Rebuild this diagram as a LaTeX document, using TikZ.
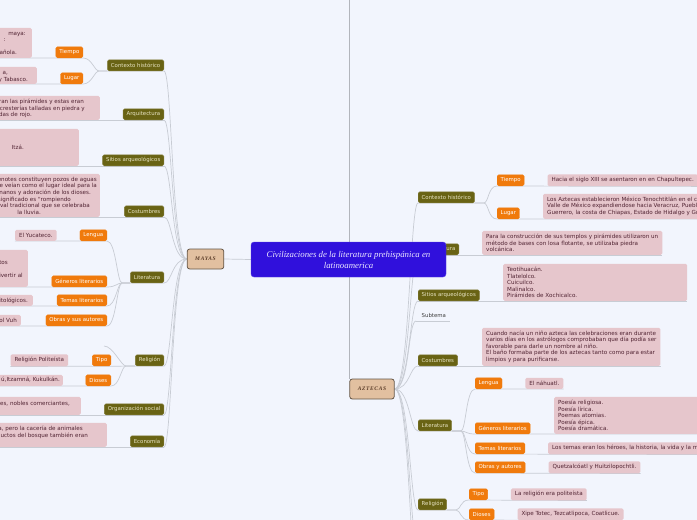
\documentclass[tikz,border=0pt]{standalone}
\usepackage{fontspec}
\setmainfont{Liberation Serif}
\newfontfamily\mapfont{DejaVu Sans}
\newfontfamily\civfont[LetterSpace=12]{Liberation Serif}
\usepackage{tikz}
\usetikzlibrary{positioning,backgrounds}
\definecolor{paper}{RGB}{242,245,253}
\definecolor{topicolive}{RGB}{105,99,20}
\definecolor{topictext}{RGB}{232,228,196}
\definecolor{suborange}{RGB}{240,122,12}
\definecolor{leafpink}{RGB}{230,198,204}
\definecolor{leaftext}{RGB}{80,35,50}
\definecolor{linkgray}{RGB}{200,204,212}
\definecolor{trunkgray}{RGB}{178,181,188}
\definecolor{civtan}{RGB}{226,192,160}
\definecolor{civbrown}{RGB}{100,85,70}
\definecolor{civtext}{RGB}{90,60,40}
\definecolor{titleblue}{RGB}{48,16,220}
\definecolor{titletext}{RGB}{236,232,255}

\begin{document}
\begin{tikzpicture}[
  x=1pt,y=-1pt,
  node distance=23pt,
  topic/.style={rectangle,fill=topicolive,draw=topicolive!85!white,rounded corners=1.5pt,text=topictext,font=\mapfont\fontsize{5.4}{6}\selectfont,inner xsep=3.5pt,inner ysep=0pt,minimum height=11pt},
  sub/.style={topic,fill=suborange,draw=suborange,text=white},
  subtema/.style={rectangle,text=black!75,font=\mapfont\fontsize{5.4}{6}\selectfont,inner xsep=3.5pt,inner ysep=0pt,minimum height=11pt},
  leaf/.style={rectangle,fill=leafpink,rounded corners=1.5pt,text=leaftext,align=left,font=\mapfont\fontsize{5.6}{6.5}\selectfont,inner xsep=4pt,inner ysep=3.2pt,minimum height=11pt},
  frag/.style={text=leaftext,font=\mapfont\fontsize{5.6}{6.5}\selectfont,inner sep=0pt,anchor=base east},
  civ/.style={rectangle,fill=civtan,draw=civbrown,line width=0.8pt,rounded corners=2.5pt,text=civtext,font=\civfont\bfseries\itshape\fontsize{5.5}{6}\selectfont,inner xsep=8pt,minimum height=20pt},
  title/.style={rectangle,fill=titleblue,draw=titleblue!80!white,rounded corners=3pt,text=titletext,align=center,font=\itshape\fontsize{8.8}{11}\selectfont,minimum width=195pt,minimum height=35pt},
  link/.style={draw=linkgray,line width=0.7pt},
  trunk/.style={draw=trunkgray,line width=1.3pt}
]
\useasboundingbox (0,0) rectangle (697,520);

% Mayas
\node[topic,anchor=south east] (mContexto) at (164,71) {Contexto histórico};
\node[topic,anchor=south east] (mArq) at (164,120) {Arquitectura};
\node[topic,anchor=south east] (mSitios) at (164,166) {Sitios arqueológicos};
\node[topic,anchor=south east] (mCost) at (164,217) {Costumbres};
\node[topic,anchor=south east] (mLit) at (164,283) {Literatura};
\node[topic,anchor=south east] (mRel) at (164,366) {Religión};
\node[topic,anchor=south east] (mOrg) at (164,415) {Organización social};
\node[topic,anchor=south east] (mEco) at (164,447) {Economía};

\node[sub,anchor=south east] (mTiempo) at (83,58) {Tiempo};
\node[sub,anchor=south east] (mLugar) at (83,84) {Lugar};
\node[sub,anchor=south east] (mLengua) at (107,241) {Lengua};
\node[sub,anchor=south east] (mGeneros) at (107,287) {Géneros literarios};
\node[sub,anchor=south east] (mTemas) at (107,306) {Temas literarios};
\node[sub,anchor=south east] (mObras) at (107,326) {Obras y sus autores};
\node[sub,anchor=south east] (mTipo) at (111,366) {Tipo};
\node[sub,anchor=south east] (mDioses) at (111,386) {Dioses};
\coordinate (mRelEnd) at (104,346);

% leaves cut by the left edge
\node[leaf,anchor=south east,minimum width=120pt,minimum height=30pt] (lmTiempo) at (32,58) {};
\node[frag] (lmTiempo1) at (26,35) {maya:};
\node[frag] (lmTiempo2) at (6,41.5) {:};
\node[frag] (lmTiempo3) at (17,54.5) {añola.};
\node[leaf,anchor=south east,minimum width=120pt,minimum height=17pt] (lmLugar) at (37,84) {};
\node[frag] (lmLugar1) at (8,74) {a,};
\node[frag] (lmLugar2) at (28,81) {y Tabasco.};
\node[leaf,anchor=south east,minimum width=130pt,minimum height=24pt] (lmArq) at (100,120) {};
\node[frag] (lmArq1) at (84,103) {ran las pirámides y estas eran};
\node[frag] (lmArq2) at (85,110) {y cresterías talladas en piedra y};
\node[frag] (lmArq3) at (32,116.8) {das de rojo.};
\node[leaf,anchor=south east,minimum width=120pt,minimum height=37pt] (lmSitios) at (79,166) {};
\node[frag] (lmSitios1) at (24,149) {Itzá.};
\node[leaf,anchor=south east,minimum width=130pt,minimum height=43pt] (lmCost) at (100,217) {};
\node[frag] (lmCost1) at (97,181) {enotes constituyen pozos de aguas};
\node[frag] (lmCost2) at (97,187.8) {e veían como el lugar ideal para la};
\node[frag] (lmCost3) at (91,194.5) {nanos y adoración de los dioses.};
\node[frag] (lmCost4) at (71,201) {e significado es "rompiendo};
\node[frag] (lmCost5) at (90,207.8) {tival tradicional que se celebraba};
\node[frag] (lmCost6) at (41,214.5) {la lluvia.};
\node[leaf,left=of mLengua] (lmLengua) {El Yucateco.};
\node[leaf,anchor=south east,minimum width=120pt,minimum height=37pt] (lmGeneros) at (28,287) {};
\node[frag] (lmGeneros1) at (8,264.5) {tos};
\node[frag] (lmGeneros2) at (23,277) {ivertir al};
\node[leaf,anchor=south east,minimum width=120pt] (lmTemas) at (33,306) {};
\node[frag] (lmTemas1) at (28,302.8) {itológicos.};
\node[leaf,anchor=south east,minimum width=120pt] (lmObras) at (21,326) {};
\node[frag] (lmObras1) at (17,322.5) {ol Vuh};
\node[leaf,left=24pt of mTipo] (lmTipo) {Religión Politeísta};
\node[leaf,anchor=south east,minimum width=120pt] (lmDioses) at (63,386) {};
\node[frag] (lmDioses1) at (60,381.8) {ú,Itzamná, Kukulkán.};
\node[leaf,anchor=south east,minimum width=120pt,minimum height=18pt] (lmOrg) at (81,415) {};
\node[frag] (lmOrg1) at (70,405) {ces, nobles comerciantes,};
\node[leaf,anchor=south east,minimum width=140pt,minimum height=24pt] (lmEco) at (107,447) {};
\node[frag] (lmEco1) at (83,430.8) {ra, pero la cacería de animales};
\node[frag] (lmEco2) at (88,437.8) {uctos del bosque también eran};

% Aztecas
\node[topic,anchor=south west] (aContexto) at (418,203) {Contexto histórico};
\node[topic,anchor=south west] (aArq) at (418,255) {Arquitectura};
\node[topic,anchor=south west] (aSitios) at (418,301) {Sitios arqueológicos};
\node[subtema,anchor=south west] (aSub) at (418,321) {Subtema};
\node[topic,anchor=south west] (aCost) at (418,366) {Costumbres};
\node[topic,anchor=south west] (aLit) at (418,431) {Literatura};
\node[topic,anchor=south west] (aRel) at (418,510) {Religión};
\coordinate (aMore1) at (418,548);
\coordinate (aMore2) at (418,585);

\node[sub,anchor=south west] (aTiempo) at (497,186) {Tiempo};
\node[sub,anchor=south west] (aLugar) at (497,219) {Lugar};
\node[sub,anchor=south west] (aLengua) at (475,389) {Lengua};
\node[sub,anchor=south west] (aGeneros) at (475,434) {Géneros literarios};
\node[sub,anchor=south west] (aTemas) at (475,454) {Temas literarios};
\node[sub,anchor=south west] (aObras) at (475,473) {Obras y autores};
\node[sub,anchor=south west] (aTipo) at (469,500) {Tipo};
\node[sub,anchor=south west] (aDioses) at (469,520) {Dioses};

\node[leaf,right=of aTiempo] (laTiempo) {Hacia el siglo XIII se asentaron en en Chapultepec.};
\node[leaf,anchor=south west] (laLugar) at (543,219) {Los Aztecas establecieron México Tenochtitlán en el ce\\Valle de México expandiendose hacia Veracruz, Puebla\\Guerrero, la costa de Chiapas, Estado de Hidalgo y Gu};
\node[leaf,anchor=south west] (laArq) at (482,255) {Para la construcción de sus templos y pirámides utilizaron un\\método de bases con losa flotante, se utilizaba piedra\\volcánica.};
\node[leaf,anchor=south west,text width=176pt] (laSitios) at (503,301) {Teotihuacán.\\Tlatelolco.\\Cuicuilco.\\Malinalco.\\Pirámides de Xochicalco.};
\node[leaf,anchor=south west] (laCost) at (482,366) {Cuando nacía un niño azteca las celebraciones eran durante\\varios días en los astrólogos comprobaban que día podía ser\\favorable para darle un nombre al niño.\\El baño formaba parte de los aztecas tanto como para estar\\limpios y para purificarse.};
\node[leaf,right=of aLengua] (laLengua) {El náhuatl.};
\node[leaf,anchor=south west,text width=150pt] (laGeneros) at (554,434) {Poesía religiosa.\\Poesía lírica.\\Poemas atomias.\\Poesía épica.\\Poesía dramática.};
\node[leaf,right=of aTemas] (laTemas) {Los temas eran los héroes, la historia, la vida y la m};
\node[leaf,right=of aObras] (laObras) {Quetzalcóatl y Huitzilopochtli.};
\node[leaf,right=of aTipo] (laTipo) {La religión era politeísta};
\node[leaf,right=of aDioses] (laDioses) {Xipe Totec, Tezcatlipoca, Coatlicue.};

\node[civ] (mayas) at (205.5,259) {MAYAS};
\node[civ] (aztecas) at (372,389) {AZTECAS};
\coordinate (rootTop) at (aztecas.north west |- 0,-5);
\node[title] (title) at (348.5,259.5) {Civilizaciones de la literatura prehispánica en\\latinoamerica};

\begin{scope}[on background layer]
\fill[paper] (0,0) rectangle (697,520);
\draw[trunk] (rootTop) -- (aztecas.north west);
\draw[link] (mayas.east) -- (title.west);
% mayas branches
\draw[link] (mayas.west) .. controls +(-15,0) and +(8,0) .. (mContexto.south east);
\draw[link] (mayas.west) .. controls +(-15,0) and +(8,0) .. (mArq.south east);
\draw[link] (mayas.west) .. controls +(-15,0) and +(8,0) .. (mSitios.south east);
\draw[link] (mayas.west) .. controls +(-15,0) and +(8,0) .. (mCost.south east);
\draw[link] (mayas.west) .. controls +(-15,0) and +(8,0) .. (mLit.south east);
\draw[link] (mayas.west) .. controls +(-15,0) and +(8,0) .. (mRel.south east);
\draw[link] (mayas.west) .. controls +(-15,0) and +(8,0) .. (mOrg.south east);
\draw[link] (mayas.west) .. controls +(-15,0) and +(8,0) .. (mEco.south east);
\draw[link] (mContexto.south east) -- (mContexto.south west) -- ++(-8,0) .. controls +(-5,0) and +(9,0) .. (mTiempo.south east) -- (lmTiempo.south west);
\draw[link] (mContexto.south west) -- ++(-8,0) .. controls +(-5,0) and +(9,0) .. (mLugar.south east) -- (lmLugar.south west);
\draw[link] (mArq.south east) -- (lmArq.south west);
\draw[link] (mSitios.south east) -- (lmSitios.south west);
\draw[link] (mCost.south east) -- (lmCost.south west);
\draw[link] (mLit.south east) -- (mLit.south west) -- ++(-8,0) .. controls +(-5,0) and +(9,0) .. (mLengua.south east) -- (lmLengua.south west);
\draw[link] (mLit.south west) -- ++(-8,0) .. controls +(-5,0) and +(9,0) .. (mGeneros.south east) -- (lmGeneros.south west);
\draw[link] (mLit.south west) -- ++(-8,0) .. controls +(-5,0) and +(9,0) .. (mTemas.south east) -- (lmTemas.south west);
\draw[link] (mLit.south west) -- ++(-8,0) .. controls +(-5,0) and +(9,0) .. (mObras.south east) -- (lmObras.south west);
\draw[link] (mRel.south east) -- (lmTipo.south west);
\draw[link] (mRel.south west) -- ++(-9,0) .. controls +(-5,0) and +(9,0) .. (mDioses.south east) -- (lmDioses.south west);
\draw[link] (mRel.south west) -- ++(-9,0) .. controls +(-5,0) and +(9,0) .. (mRelEnd);
\draw[link] (mOrg.south east) -- (lmOrg.south west);
\draw[link] (mEco.south east) -- (lmEco.south west);
% aztecas branches
\draw[link] (aztecas.east) .. controls +(15,0) and +(-8,0) .. (aContexto.south west);
\draw[link] (aztecas.east) .. controls +(15,0) and +(-8,0) .. (aArq.south west);
\draw[link] (aztecas.east) .. controls +(15,0) and +(-8,0) .. (aSitios.south west);
\draw[link] (aztecas.east) .. controls +(15,0) and +(-8,0) .. ([xshift=-2pt]aSub.south west);
\draw[link] (aztecas.east) .. controls +(15,0) and +(-8,0) .. (aCost.south west);
\draw[link] (aztecas.east) .. controls +(15,0) and +(-8,0) .. (aLit.south west);
\draw[link] (aztecas.east) .. controls +(15,0) and +(-8,0) .. (aRel.south west);
\draw[link] (aztecas.east) .. controls +(15,0) and +(-8,0) .. (aMore1);
\draw[link] (aztecas.east) .. controls +(15,0) and +(-8,0) .. (aMore2);
\draw[link] (aContexto.south west) -- (aContexto.south east) -- ++(9,0) .. controls +(5,0) and +(-9,0) .. (aTiempo.south west) -- (laTiempo.south east);
\draw[link] (aContexto.south east) -- ++(9,0) .. controls +(5,0) and +(-9,0) .. (aLugar.south west) -- (laLugar.south east);
\draw[link] (aArq.south west) -- (laArq.south east);
\draw[link] (aSitios.south west) -- (laSitios.south east);
\draw[link] ([xshift=-2pt]aSub.south west) -- (aSub.south east);
\draw[link] (aCost.south west) -- (laCost.south east);
\draw[link] (aLit.south west) -- (aLit.south east) -- ++(9,0) .. controls +(5,0) and +(-9,0) .. (aLengua.south west) -- (laLengua.south east);
\draw[link] (aLit.south east) -- ++(9,0) .. controls +(5,0) and +(-9,0) .. (aGeneros.south west) -- (laGeneros.south east);
\draw[link] (aLit.south east) -- ++(9,0) .. controls +(5,0) and +(-9,0) .. (aTemas.south west) -- (laTemas.south east);
\draw[link] (aLit.south east) -- ++(9,0) .. controls +(5,0) and +(-9,0) .. (aObras.south west) -- (laObras.south east);
\draw[link] (aRel.south west) -- (aRel.south east) -- ++(9,0) .. controls +(5,0) and +(-9,0) .. (aTipo.south west) -- (laTipo.south east);
\draw[link] (aRel.south east) -- ++(9,0) .. controls +(5,0) and +(-9,0) .. (aDioses.south west) -- (laDioses.south east);
\end{scope}
\end{tikzpicture}
\end{document}
